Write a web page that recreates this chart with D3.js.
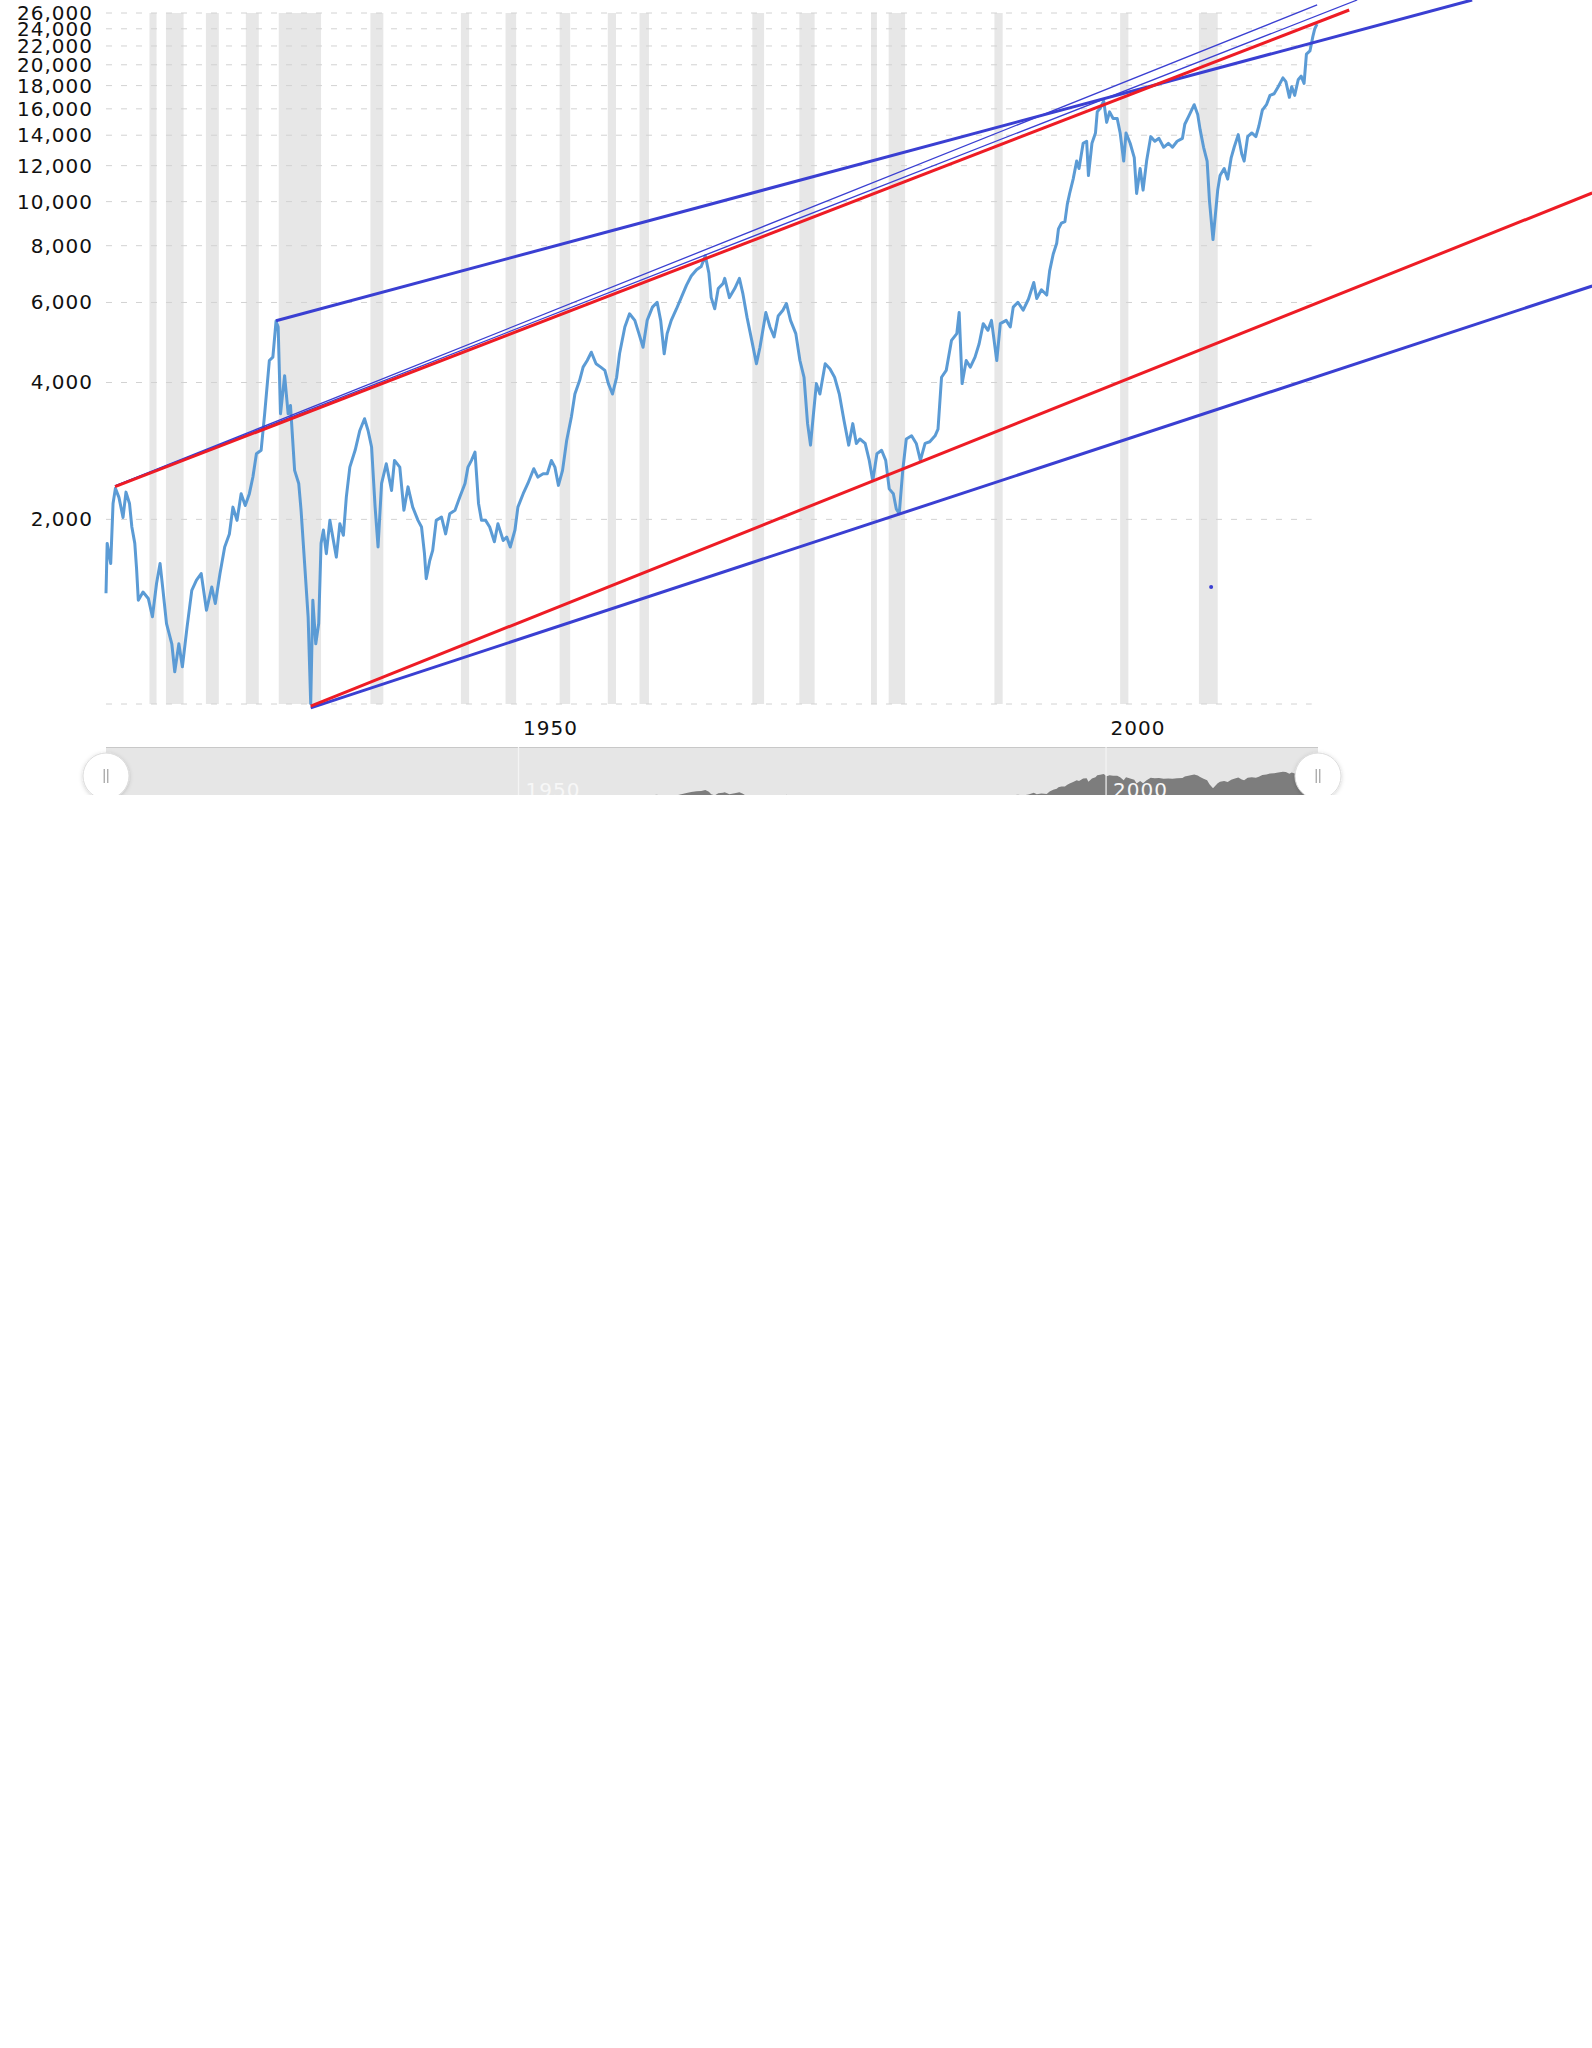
<!DOCTYPE html>
<html>
<head>
<meta charset="utf-8">
<script src="https://cdn.jsdelivr.net/npm/d3@7"></script>
<style>
  html, body { margin: 0; padding: 0; background: #ffffff; }
  svg { display: block; }
</style>
</head>
<body>
<svg id="chart" width="1592" height="2048"></svg>
<script>
// ---------------- DATA ----------------
const yDomain = [785, 26000];
const xDomain = [1914.9, 2017.95];
const yTickValues = [2000, 4000, 6000, 8000, 10000, 12000, 14000, 16000, 18000, 20000, 22000, 24000, 26000];
const xTickYears = [1950, 2000];
const gridEndYear = 2017.5;

// NBER recessions shaded [start, end] (years)
const recessions = [
  [1918.6, 1919.2], [1920.0, 1921.5], [1923.4, 1924.5], [1926.8, 1927.9],
  [1929.6, 1933.2], [1937.4, 1938.5], [1945.1, 1945.8], [1948.9, 1949.8],
  [1953.5, 1954.4], [1957.6, 1958.3], [1960.3, 1961.1], [1969.9, 1970.9],
  [1973.9, 1975.2], [1980.0, 1980.5], [1981.5, 1982.9], [1990.5, 1991.2],
  [2001.2, 2001.9], [2007.9, 2009.5]
];

// Dow Jones (inflation adjusted), [year, value]
const dow1910s = [[1914.9,1376],[1915.0,1771],[1915.3,1600],[1915.5,2168],[1915.7,2340],[1916.0,2236],[1916.35,2020],[1916.6,2296],[1916.9,2168],[1917.1,1924],[1917.35,1771],[1917.5,1560],[1917.65,1328],[1918.05,1384],[1918.5,1340],[1918.85,1221],[1919.2,1445],[1919.5,1600],[1919.75,1396]];
const dow1920s = [[1920.05,1180],[1920.5,1065],[1920.75,924],[1921.1,1065],[1921.4,948],[1921.8,1160],[1922.2,1396],[1922.6,1470],[1923.0,1520],[1923.45,1262],[1923.9,1420],[1924.2,1306],[1924.6,1520],[1925.0,1739],[1925.4,1858],[1925.7,2128],[1926.05,1990],[1926.4,2278],[1926.75,2146],[1927.1,2278],[1927.4,2478],[1927.7,2788],[1928.1,2838],[1928.4,3414],[1928.8,4472],[1929.1,4550],[1929.37,5460],[1929.55,5300],[1929.75,3414]];
const dow1930s = [[1930.1,4142],[1930.4,3414],[1930.6,3560],[1930.95,2563],[1931.3,2399],[1931.5,2094],[1931.8,1600],[1932.1,1221],[1932.32,786],[1932.5,1328],[1932.75,1065],[1933.0,1180],[1933.2,1771],[1933.4,1895],[1933.65,1681],[1933.95,1990],[1934.2,1828],[1934.5,1652],[1934.8,1957],[1935.1,1845],[1935.35,2238],[1935.65,2606],[1936.1,2838],[1936.5,3138],[1936.9,3330],[1937.2,3138],[1937.5,2886],[1937.8,2128],[1938.05,1739],[1938.35,2399],[1938.75,2650],[1939.2,2316],[1939.45,2696],[1939.9,2606]];
const dow1940s = [[1940.25,2094],[1940.6,2358],[1941.0,2128],[1941.45,1990],[1941.75,1924],[1942.0,1681],[1942.15,1481],[1942.45,1624],[1942.7,1709],[1943.0,1990],[1943.45,2024],[1943.8,1858],[1944.15,2058],[1944.6,2094],[1945.0,2238],[1945.45,2399],[1945.7,2606],[1946.0,2696],[1946.3,2813],[1946.6,2168],[1946.85,1990],[1947.2,1990],[1947.55,1924],[1947.95,1785],[1948.25,1957],[1948.7,1797],[1949.0,1828],[1949.3,1739],[1949.7,1895]];
const dow1950s = [[1949.95,2128],[1950.4,2278],[1950.8,2399],[1951.3,2585],[1951.65,2478],[1952.1,2520],[1952.45,2520],[1952.8,2696],[1953.1,2606],[1953.4,2376],[1953.75,2563],[1954.1,2982],[1954.5,3358],[1954.8,3774],[1955.2,4040],[1955.5,4324],[1955.85,4472],[1956.2,4664],[1956.6,4398],[1957.0,4324],[1957.35,4254],[1957.65,3978],[1958.0,3774],[1958.35,4108],[1958.6,4627],[1959.05,5300],[1959.45,5666],[1959.9,5479]];
const dow1960s = [[1960.25,5124],[1960.6,4784],[1960.95,5479],[1961.4,5860],[1961.8,6008],[1962.1,5479],[1962.4,4627],[1962.65,5124],[1963.0,5479],[1963.45,5813],[1963.85,6150],[1964.3,6550],[1964.7,6863],[1965.15,7085],[1965.55,7200],[1965.9,7604],[1966.2,6970],[1966.4,6150],[1966.7,5813],[1967.0,6440],[1967.4,6600],[1967.55,6780],[1967.95,6150],[1968.4,6440],[1968.8,6780],[1969.1,6266],[1969.45,5564],[1969.85,4953]];
const dow1970s = [[1970.25,4398],[1970.55,4784],[1971.05,5702],[1971.4,5300],[1971.75,5040],[1972.1,5604],[1972.5,5770],[1972.8,5970],[1973.15,5479],[1973.6,5124],[1973.95,4472],[1974.3,4108],[1974.6,3248],[1974.85,2913],[1975.1,3414],[1975.35,3978],[1975.65,3774],[1976.1,4398],[1976.5,4288],[1976.9,4108],[1977.3,3774],[1977.7,3300],[1978.1,2913],[1978.45,3248],[1978.75,2938],[1979.05,3005],[1979.5,2938],[1979.85,2696]];
const dow1980s = [[1980.15,2432],[1980.5,2788],[1980.9,2838],[1981.25,2696],[1981.55,2334],[1981.9,2278],[1982.15,2108],[1982.4,2058],[1982.7,2563],[1983.0,3005],[1983.45,3054],[1983.85,2938],[1984.2,2696],[1984.6,2938],[1985.0,2963],[1985.45,3054],[1985.7,3160],[1986.0,4108],[1986.4,4254],[1986.85,4953],[1987.3,5124],[1987.5,5702],[1987.75,3978],[1988.1,4472],[1988.45,4324],[1988.85,4550],[1989.2,4868],[1989.55,5390],[1989.95,5212]];
const dow1990s = [[1990.25,5479],[1990.7,4472],[1991.0,5390],[1991.5,5479],[1991.85,5300],[1992.1,5860],[1992.5,6008],[1992.95,5770],[1993.4,6107],[1993.85,6640],[1994.1,6120],[1994.5,6400],[1994.95,6230],[1995.2,7040],[1995.5,7660],[1995.8,8100],[1995.95,8710],[1996.2,8970],[1996.5,9040],[1996.7,9860],[1996.9,10420],[1997.2,11210],[1997.5,12280],[1997.7,11830],[1998.05,13440],[1998.35,13580],[1998.5,11410],[1998.8,13440],[1999.1,14160],[1999.25,15760],[1999.5,16040],[1999.8,16650]];
const dow2000s = [[2000.05,14940],[2000.3,15760],[2000.6,15240],[2000.95,15240],[2001.2,14160],[2001.5,12280],[2001.7,14160],[2002.05,13440],[2002.4,12500],[2002.6,10420],[2002.9,11830],[2003.15,10600],[2003.45,12280],[2003.8,13900],[2004.15,13580],[2004.5,13780],[2004.9,13170],[2005.3,13440],[2005.65,13170],[2006.05,13580],[2006.5,13780],[2006.7,14800],[2007.1,15540],[2007.5,16340],[2007.8,15540],[2008.0,14420],[2008.3,13170],[2008.6,12280],[2008.8,10040],[2009.1,8250],[2009.3,9340],[2009.5,10600],[2009.7,11410]];
const dow2010s = [[2010.05,11830],[2010.35,11210],[2010.65,12500],[2010.9,13170],[2011.25,14040],[2011.55,12720],[2011.75,12280],[2012.05,13900],[2012.4,14160],[2012.75,13900],[2013.0,14650],[2013.3,15900],[2013.65,16340],[2013.95,17130],[2014.3,17270],[2014.65,17900],[2015.05,18720],[2015.3,18370],[2015.6,16960],[2015.8,17900],[2016.05,17130],[2016.35,18540],[2016.6,18890],[2016.85,18200],[2017.05,21100],[2017.35,21450],[2017.6,23100],[2017.75,23960],[2017.95,24590]];

// Hand-drawn trend lines, [year, value] endpoints
const peak1929Line   = [[1929.37, 5471], [2031.15, 27770]];
const peak1916Red    = [[1915.67, 2360], [2020.69, 26400]];
const peak1916ThinA  = [[1915.67, 2370], [2017.96, 27080]];
const peak1916ThinB  = [[1915.67, 2370], [2021.37, 27770]];
const low1932Red     = [[1932.32, 777], [2041.37, 10450]];
const low1932Blue    = [[1932.32, 770], [2041.37, 6523]];
const strayDot       = [[2008.94, 1420]];

// ---------------- DRAW ----------------
const dow = [].concat(dow1910s, dow1920s, dow1930s, dow1940s, dow1950s, dow1960s, dow1970s, dow1980s, dow1990s, dow2000s, dow2010s);

const svg = d3.select("#chart");
const FONT = "'DejaVu Sans', Verdana, sans-serif";

const x = d3.scaleLinear().domain(xDomain).range([106, 1317]);
const y = d3.scaleLog().domain(yDomain).range([704, 13]);
const yNav = d3.scaleLog().domain(yDomain).range([836, 765]);

const plotTop = y(yDomain[1]);
const plotBottom = y(yDomain[0]);

// recession bands
svg.append("g").selectAll("rect").data(recessions).join("rect")
  .attr("x", d => x(d[0]))
  .attr("width", d => x(d[1]) - x(d[0]))
  .attr("y", plotTop)
  .attr("height", plotBottom - plotTop)
  .attr("fill", "#e7e7e7");

// grid lines
const gridVals = yTickValues.concat([yDomain[0]]);
svg.append("g").selectAll("line").data(gridVals).join("line")
  .attr("x1", x(xDomain[0])).attr("x2", x(gridEndYear))
  .attr("y1", d => y(d)).attr("y2", d => y(d))
  .attr("stroke", "#d2d2d2").attr("stroke-width", 1)
  .attr("stroke-dasharray", "6,9");

// y axis labels
const yAxis = svg.append("g").attr("transform", "translate(93,0)")
  .call(d3.axisLeft(y).tickValues(yTickValues).tickFormat(d3.format(",")).tickSize(0).tickPadding(0));
yAxis.select(".domain").remove();
yAxis.selectAll("text").attr("font-family", FONT).attr("font-size", 20)
  .attr("letter-spacing", "1px").attr("fill", "#111");

// x axis labels
const xAxis = svg.append("g").attr("transform", `translate(0,${plotBottom})`)
  .call(d3.axisBottom(x).tickValues(xTickYears).tickFormat(d3.format("d")).tickSize(0));
xAxis.select(".domain").remove();
xAxis.selectAll("text").attr("font-family", FONT).attr("font-size", 20)
  .attr("letter-spacing", "1px").attr("fill", "#111")
  .attr("text-anchor", "start").attr("x", 4).attr("y", 31).attr("dy", null);

// data line
svg.append("path").datum(dow)
  .attr("fill", "none")
  .attr("stroke", "#5b9bd5")
  .attr("stroke-width", 3)
  .attr("stroke-linejoin", "round")
  .attr("d", d3.line().x(d => x(d[0])).y(d => y(d[1])));

// trend lines
const seg = d3.line().x(d => x(d[0])).y(d => y(d[1]));
const blue = "#3a3fd2", red = "#ee1c25";
const lines = [
  {pts: peak1916ThinA, c: blue, w: 1.3},
  {pts: peak1916ThinB, c: blue, w: 1.3},
  {pts: peak1929Line, c: blue, w: 3},
  {pts: low1932Blue, c: blue, w: 3},
  {pts: peak1916Red, c: red, w: 3},
  {pts: low1932Red, c: red, w: 3}
];
svg.append("g").selectAll("path").data(lines).join("path")
  .attr("fill", "none")
  .attr("stroke", d => d.c)
  .attr("stroke-width", d => d.w)
  .attr("d", d => seg(d.pts));

svg.append("g").selectAll("circle").data(strayDot).join("circle")
  .attr("cx", d => x(d[0])).attr("cy", d => y(d[1])).attr("r", 2)
  .attr("fill", blue);

// ---------------- NAVIGATOR ----------------
const navTop = 747, cropBottom = 795;
const defs = svg.append("defs");
defs.append("clipPath").attr("id", "navClip").append("rect")
  .attr("x", 0).attr("y", 0).attr("width", 1592).attr("height", cropBottom);
const flt = defs.append("filter").attr("id", "shadow").attr("x", "-50%").attr("y", "-50%").attr("width", "200%").attr("height", "200%");
flt.append("feDropShadow").attr("dx", 0).attr("dy", 1).attr("stdDeviation", 2).attr("flood-color", "#000").attr("flood-opacity", 0.18);

const nav = svg.append("g").attr("clip-path", "url(#navClip)");
const navLeft = x(xDomain[0]), navRight = x(xDomain[1]) + 1;

nav.append("rect").attr("x", navLeft).attr("y", navTop)
  .attr("width", navRight - navLeft).attr("height", 100).attr("fill", "#e6e6e6");

nav.append("path").datum(dow)
  .attr("fill", "#7d7d7d")
  .attr("d", d3.area().x(d => x(d[0])).y0(900).y1(d => yNav(d[1])));

nav.append("line").attr("x1", navLeft).attr("x2", navRight)
  .attr("y1", navTop + 0.5).attr("y2", navTop + 0.5)
  .attr("stroke", "#c8c8c8").attr("stroke-width", 1.2);

const navTicks = nav.append("g").selectAll("g").data(xTickYears).join("g")
  .attr("transform", d => `translate(${x(d)},0)`);
navTicks.append("line").attr("y1", navTop).attr("y2", 900)
  .attr("stroke", "#f4f4f4").attr("stroke-width", 1.2);
navTicks.append("text").text(d => d)
  .attr("x", 7).attr("y", 797)
  .attr("font-family", FONT).attr("font-size", 20).attr("letter-spacing", "1px")
  .attr("fill", "#f7f7f7");

// handles
const handles = nav.append("g").selectAll("g").data(xDomain).join("g")
  .attr("transform", d => `translate(${x(d) + (d === xDomain[1] ? 1 : 0)},776)`);
handles.append("circle").attr("r", 23).attr("fill", "#ffffff")
  .attr("stroke", "#dcdcdc").attr("stroke-width", 1).attr("filter", "url(#shadow)");
handles.selectAll("line").data([-1.8, 1.8]).join("line")
  .attr("x1", d => d).attr("x2", d => d).attr("y1", -7).attr("y2", 7)
  .attr("stroke", "#8c8c8c").attr("stroke-width", 1);
</script>
</body>
</html>
